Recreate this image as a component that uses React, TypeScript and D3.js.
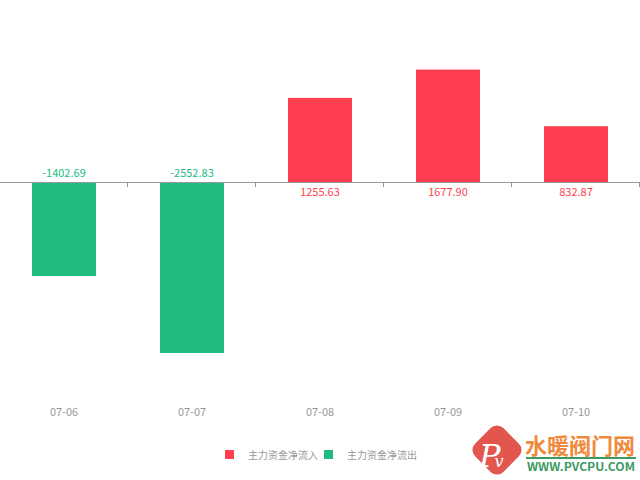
import React from "react";
import * as d3 from "d3";

const categories = ["07-06", "07-07", "07-08", "07-09", "07-10"];
const values = [-1402.69, -2552.83, 1255.63, 1677.9, 832.87];
const legendLabels = ["主力资金净流入", "主力资金净流出"];

const W = 640;
const H = 480;
const RED = "#ff3f4f";
const GREEN = "#21bb7f";
const FONT = "'Noto Sans CJK SC', 'Noto Sans', sans-serif";

export default function App() {
  const x = d3.scaleBand<string>().domain(categories).range([0, W]).paddingInner(0).paddingOuter(0);
  const y = d3.scaleLinear().domain([-3000, 2000]).range([383, 48]);
  const bw = x.bandwidth() * 0.5;
  const y0 = y(0);
  const ticks = categories.map((c) => (x(c) as number) + x.bandwidth());

  return (
    <svg width={W} height={H} style={{ position: "absolute", left: 0, top: 0, background: "#fff" }} fontFamily={FONT}>
      {categories.map((c, i) => {
        const v = values[i];
        const cx = (x(c) as number) + x.bandwidth() / 2;
        const top = Math.min(y(v), y0);
        const h = Math.abs(y(v) - y0);
        const col = v >= 0 ? RED : GREEN;
        return (
          <g key={c}>
            <rect x={cx - bw / 2} y={top} width={bw} height={h} fill={col} />
            <text
              x={cx}
              y={v >= 0 ? y0 + 14 : y0 - 5}
              textAnchor="middle"
              fontSize={11}
              fill={col}
            >
              {v.toFixed(2)}
            </text>
            <text x={cx} y={416} textAnchor="middle" fontSize={11} fill="#999">
              {c}
            </text>
          </g>
        );
      })}
      <line x1={0} x2={W} y1={y0 + 0.5} y2={y0 + 0.5} stroke="#999" strokeWidth={1} />
      {ticks.map((t, i) => (
        <line key={i} x1={t - 0.5} x2={t - 0.5} y1={y0} y2={y0 + 5} stroke="#999" strokeWidth={1} />
      ))}
      {/* legend */}
      <g>
        <rect x={225} y={450} width={9} height={9} fill={RED} />
        <text x={248} y={458.5} fontSize={10} fill="#999">{legendLabels[0]}</text>
        <rect x={324} y={450} width={9} height={9} fill={GREEN} />
        <text x={347} y={458.5} fontSize={10} fill="#999">{legendLabels[1]}</text>
      </g>
      {/* watermark */}
      <g>
        <rect x={477} y={430} width={40} height={40} rx={9} fill="#e2564e" transform="rotate(45 497 450)" />
        <text x={479} y={467} fontStyle="italic" fontFamily="'DejaVu Serif', serif" fill="#fff">
          <tspan fontSize={32}>P</tspan>
          <tspan fontSize={16} dx={-6}>v</tspan>
        </text>
        <text x={525} y={454} fontSize={22} fontWeight="bold" fill="#f08a3c" textLength={110} lengthAdjust="spacingAndGlyphs">水暖阀门网</text>
        <rect x={526} y={457} width={110} height={2} fill="#3c9a5f" />
        <text x={527} y={470.5} fontSize={11} fontWeight="bold" fill="#3c9a5f" textLength={108} lengthAdjust="spacingAndGlyphs">WWW.PVCPU.COM</text>
      </g>
    </svg>
  );
}
